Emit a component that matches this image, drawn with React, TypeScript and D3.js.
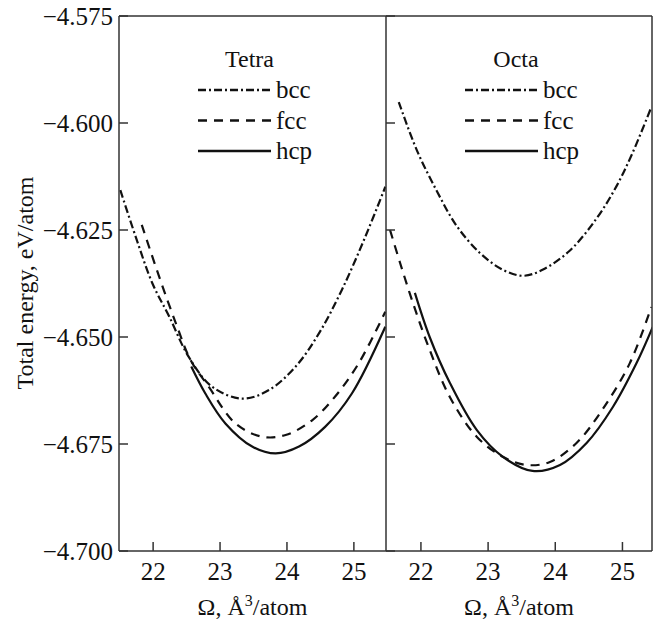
import React, { useEffect, useRef } from 'react'
import * as d3 from 'd3'

// Tetra panel (volume, energy)
const tetraBccX = [21.51, 21.74, 21.99, 22.24, 22.53, 22.88, 23.33, 23.73, 24.13, 24.48, 24.82, 25.17, 25.47]
const tetraBccY = [-4.6157, -4.6266, -4.6375, -4.6452, -4.6546, -4.6616, -4.6644, -4.6624, -4.6569, -4.6491, -4.6390, -4.6266, -4.6149]
const tetraFccX = [21.83, 22.09, 22.34, 22.56, 22.83, 23.23, 23.63, 23.98, 24.38, 24.72, 25.07, 25.47]
const tetraFccY = [-4.6238, -4.6359, -4.6468, -4.6554, -4.6616, -4.6702, -4.6733, -4.6729, -4.6694, -4.6639, -4.6562, -4.6441]
const tetraHcpX = [22.57, 22.78, 23.08, 23.48, 23.83, 24.18, 24.57, 24.97, 25.47]
const tetraHcpY = [-4.6569, -4.6632, -4.6702, -4.6756, -4.6772, -4.6756, -4.6710, -4.6632, -4.6476]

// Octa panel
const octaBccX = [21.67, 21.94, 22.24, 22.53, 22.88, 23.22, 23.52, 23.81, 24.21, 24.61, 24.91, 25.15, 25.43]
const octaBccY = [-4.5951, -4.6064, -4.6160, -4.6240, -4.6304, -4.6343, -4.6357, -4.6343, -4.6299, -4.6224, -4.6148, -4.6070, -4.5963]
const octaFccX = [21.54, 21.69, 21.88, 22.13, 22.43, 22.83, 23.22, 23.57, 23.92, 24.32, 24.70, 25.11, 25.43]
const octaFccY = [-4.6250, -4.6327, -4.6420, -4.6530, -4.6640, -4.6733, -4.6780, -4.6799, -4.6792, -4.6747, -4.6670, -4.6561, -4.6430]
const octaHcpX = [21.91, 22.13, 22.43, 22.83, 23.22, 23.66, 24.07, 24.47, 24.86, 25.21, 25.45]
const octaHcpY = [-4.6397, -4.6500, -4.6607, -4.6717, -4.6780, -4.6813, -4.6799, -4.6747, -4.6663, -4.6561, -4.6477]

const yTicks = [-4.575, -4.600, -4.625, -4.650, -4.675, -4.700]
const xTicks = [22, 23, 24, 25]
const legendNames = ['bcc', 'fcc', 'hcp']
const panelTitles = ['Tetra', 'Octa']

const FONT = '"Liberation Serif", "Times New Roman", serif'
const dashes = ['8,3,2,3', '9,7', null]

const App = () => {
    const ref = useRef<SVGSVGElement | null>(null)

    useEffect(() => {
        const svg = d3.select(ref.current)
        svg.selectAll('*').remove()

        const width = 654
        const height = 624
        const top = 16
        const bottom = 551

        const yScale = d3.scaleLinear().domain([-4.700, -4.575]).range([bottom, top])

        const panels = [
            { title: panelTitles[0], x: d3.scaleLinear().domain([21.49, 25.48]).range([119, 386]),
              series: [[tetraBccX, tetraBccY], [tetraFccX, tetraFccY], [tetraHcpX, tetraHcpY]] },
            { title: panelTitles[1], x: d3.scaleLinear().domain([21.48, 25.44]).range([386, 652]),
              series: [[octaBccX, octaBccY], [octaFccX, octaFccY], [octaHcpX, octaHcpY]] },
        ]

        svg.attr('width', width).attr('height', height)

        panels.forEach((p, pi) => {
            const [x0, x1] = p.x.range()
            const clipId = 'clip' + pi
            svg.append('clipPath').attr('id', clipId)
                .append('rect').attr('x', x0).attr('y', top).attr('width', x1 - x0).attr('height', bottom - top)

            const curve = d3.line().curve(d3.curveCatmullRom.alpha(0.5))

            p.series.forEach(([xs, ys], si) => {
                const pts: [number, number][] = xs.map((v, i) => [p.x(v), yScale(ys[i])])
                const path = svg.append('path')
                    .attr('clip-path', `url(#${clipId})`)
                    .attr('d', curve(pts))
                    .attr('fill', 'none')
                    .attr('stroke', '#111')
                    .attr('stroke-width', 2.2)
                if (dashes[si]) path.attr('stroke-dasharray', dashes[si] as string)
            })

            // left axis line + inward ticks
            const axisG = svg.append('g').attr('stroke', '#333').attr('stroke-width', 1.5)
            axisG.append('line').attr('x1', x0).attr('x2', x0).attr('y1', top).attr('y2', bottom)
            yTicks.forEach(t => {
                axisG.append('line').attr('x1', x0).attr('x2', x0 + 9)
                    .attr('y1', yScale(t)).attr('y2', yScale(t))
            })
            xTicks.forEach(t => {
                axisG.append('line').attr('x1', p.x(t)).attr('x2', p.x(t))
                    .attr('y1', bottom).attr('y2', bottom - 9)
            })

            svg.append('g').selectAll('text').data(xTicks).join('text')
                .attr('x', d => p.x(d))
                .attr('y', 580)
                .attr('text-anchor', 'middle')
                .attr('font-family', FONT)
                .attr('font-size', 25)
                .attr('fill', '#111')
                .text(d => String(d))

            const xt = svg.append('text')
                .attr('x', (x0 + x1) / 2)
                .attr('y', 615)
                .attr('text-anchor', 'middle')
                .attr('font-family', FONT)
                .attr('font-size', 24)
                .attr('fill', '#111')
            xt.append('tspan').text('Ω, Å')
            xt.append('tspan').attr('font-size', 16).attr('dy', -9).text('3')
            xt.append('tspan').attr('dy', 9).text('/atom')

            // panel title
            svg.append('text')
                .attr('x', (x0 + x1) / 2 - 3)
                .attr('y', 67)
                .attr('text-anchor', 'middle')
                .attr('font-family', FONT)
                .attr('font-size', 24)
                .attr('fill', '#111')
                .text(p.title)

            // legend
            const lx = x0 + 79
            legendNames.forEach((name, i) => {
                const ly = 90 + i * 30.5
                const l = svg.append('line')
                    .attr('x1', lx).attr('x2', lx + 73)
                    .attr('y1', ly).attr('y2', ly)
                    .attr('stroke', '#111')
                    .attr('stroke-width', 2.4)
                if (dashes[i]) l.attr('stroke-dasharray', dashes[i] as string)
                svg.append('text')
                    .attr('x', lx + 78)
                    .attr('y', ly + 8)
                    .attr('font-family', FONT)
                    .attr('font-size', 25)
                    .attr('fill', '#111')
                    .text(name)
            })
        })

        // frame top, bottom, right
        const frame = svg.append('g').attr('stroke', '#333').attr('stroke-width', 1.5)
        frame.append('line').attr('x1', 119).attr('x2', 652).attr('y1', top).attr('y2', top)
        frame.append('line').attr('x1', 119).attr('x2', 652).attr('y1', bottom).attr('y2', bottom)
        frame.append('line').attr('x1', 652).attr('x2', 652).attr('y1', top).attr('y2', bottom)

        // y labels
        svg.append('g').selectAll('text').data(yTicks).join('text')
            .attr('x', 113)
            .attr('y', d => yScale(d))
            .attr('dy', '0.36em')
            .attr('text-anchor', 'end')
            .attr('font-family', FONT)
            .attr('font-size', 25)
            .attr('fill', '#111')
            .text(d => '\u2212' + Math.abs(d).toFixed(3))

        svg.append('text')
            .attr('transform', `translate(33, ${283}) rotate(-90)`)
            .attr('text-anchor', 'middle')
            .attr('font-family', FONT)
            .attr('font-size', 24)
            .attr('fill', '#111')
            .text('Total energy, eV/atom')
    }, [])

    return (
        <svg ref={ref} width={654} height={624}
            style={{ position: 'absolute', left: 0, top: 0, background: '#fff' }} />
    )
}

export default App
